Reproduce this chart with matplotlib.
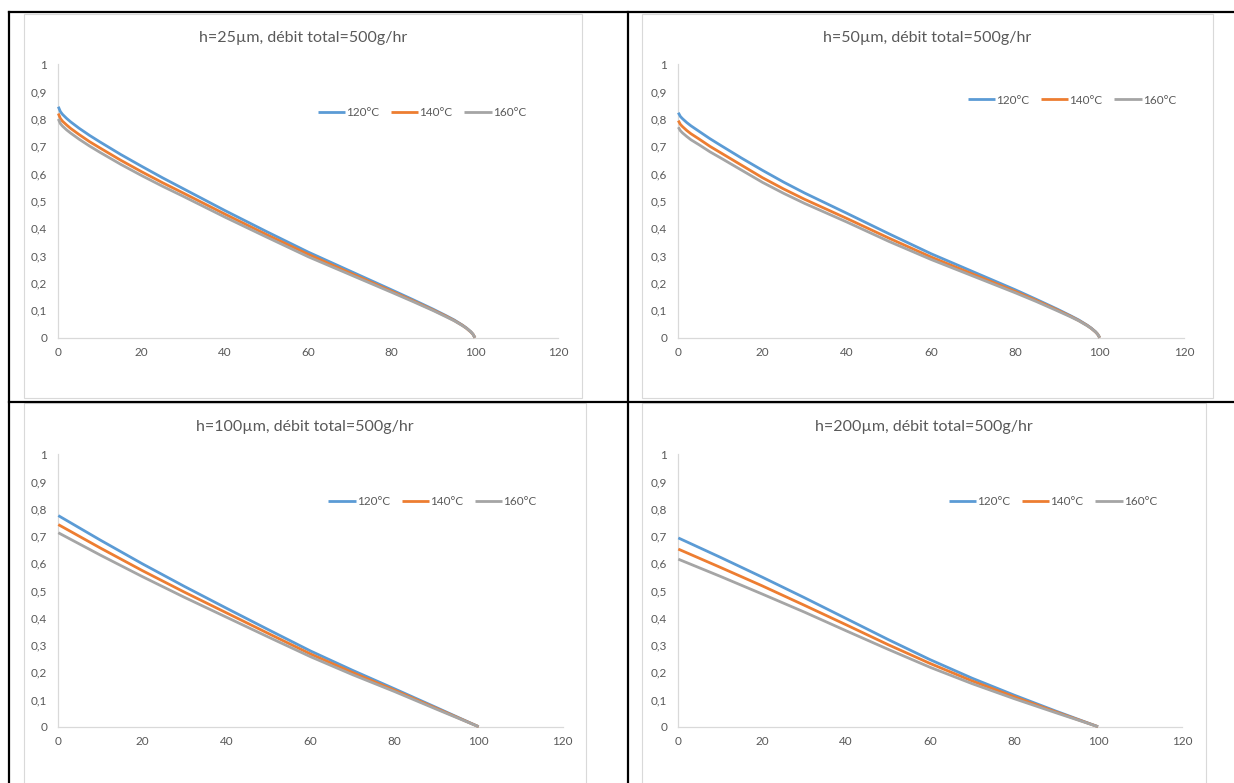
import matplotlib
matplotlib.use("Agg")
import matplotlib.pyplot as plt
from matplotlib.lines import Line2D
from matplotlib.patches import Rectangle

plt.rcParams['font.family'] = ['Lato', 'DejaVu Sans']

W, H = 1234, 783

# ---------------- data ----------------
series_names = ["120°C", "140°C", "160°C"]
colors = ["#5B9BD5", "#ED7D31", "#A5A5A5"]
titles = ["h=25µm, débit total=500g/hr", "h=50µm, débit total=500g/hr",
          "h=100µm, débit total=500g/hr", "h=200µm, débit total=500g/hr"]

x_fine = [0, 0.5, 1, 2, 3, 5, 7.5, 10, 15, 20, 25, 30, 40, 50, 60, 70, 80, 85, 90, 93, 95, 97, 98, 99, 99.5, 100]
h25_120 = [0.845, 0.827, 0.817, 0.802, 0.789, 0.766, 0.740, 0.716, 0.670, 0.627, 0.585, 0.545, 0.465, 0.388, 0.313, 0.244, 0.175, 0.140, 0.104, 0.081, 0.065, 0.046, 0.035, 0.022, 0.013, 0]
h25_140 = [0.820, 0.802, 0.792, 0.778, 0.765, 0.743, 0.717, 0.694, 0.649, 0.607, 0.567, 0.529, 0.452, 0.377, 0.305, 0.237, 0.170, 0.136, 0.101, 0.079, 0.063, 0.045, 0.034, 0.021, 0.013, 0]
h25_160 = [0.800, 0.783, 0.774, 0.760, 0.748, 0.726, 0.701, 0.678, 0.634, 0.593, 0.554, 0.517, 0.441, 0.368, 0.296, 0.231, 0.166, 0.133, 0.099, 0.077, 0.062, 0.044, 0.034, 0.021, 0.013, 0]

h50_120 = [0.823, 0.809, 0.801, 0.787, 0.775, 0.754, 0.728, 0.704, 0.657, 0.612, 0.569, 0.529, 0.455, 0.380, 0.307, 0.241, 0.175, 0.140, 0.104, 0.081, 0.065, 0.046, 0.035, 0.022, 0.013, 0]
h50_140 = [0.794, 0.780, 0.772, 0.758, 0.746, 0.726, 0.700, 0.677, 0.631, 0.585, 0.544, 0.506, 0.436, 0.364, 0.295, 0.232, 0.169, 0.136, 0.101, 0.079, 0.063, 0.045, 0.034, 0.021, 0.013, 0]
h50_160 = [0.770, 0.757, 0.749, 0.736, 0.724, 0.705, 0.680, 0.658, 0.613, 0.568, 0.528, 0.491, 0.423, 0.352, 0.286, 0.225, 0.164, 0.132, 0.098, 0.077, 0.062, 0.044, 0.034, 0.021, 0.013, 0]

x_coarse = [0, 10, 20, 30, 40, 50, 60, 70, 80, 90, 100]
h100_120 = [0.775, 0.685, 0.598, 0.515, 0.435, 0.356, 0.278, 0.207, 0.139, 0.070, 0]
h100_140 = [0.742, 0.656, 0.573, 0.494, 0.418, 0.342, 0.267, 0.199, 0.134, 0.067, 0]
h100_160 = [0.712, 0.630, 0.551, 0.475, 0.402, 0.329, 0.257, 0.191, 0.129, 0.064, 0]

h200_120 = [0.693, 0.622, 0.549, 0.474, 0.397, 0.320, 0.246, 0.178, 0.116, 0.057, 0]
h200_140 = [0.652, 0.585, 0.517, 0.446, 0.374, 0.301, 0.232, 0.168, 0.110, 0.054, 0]
h200_160 = [0.615, 0.552, 0.487, 0.421, 0.352, 0.284, 0.218, 0.158, 0.103, 0.051, 0]

charts = [
    (x_fine, [h25_120, h25_140, h25_160]),
    (x_fine, [h50_120, h50_140, h50_160]),
    (x_coarse, [h100_120, h100_140, h100_160]),
    (x_coarse, [h200_120, h200_140, h200_160]),
]

x_ticks = [0, 20, 40, 60, 80, 100, 120]
y_ticks = [0, 0.1, 0.2, 0.3, 0.4, 0.5, 0.6, 0.7, 0.8, 0.9, 1]
y_labels = ["0", "0,1", "0,2", "0,3", "0,4", "0,5", "0,6", "0,7", "0,8", "0,9", "1"]

# ---------------- layout (pixels) ----------------
frames = [(24, 14, 582, 398), (642, 14, 1213, 398), (24, 403, 586, 790), (642, 403, 1206, 790)]
plots = [(58.3, 558.3, 64.3, 337.7), (678.3, 1184, 64.3, 337.7),
         (58.3, 562.7, 454.3, 726.7), (678.3, 1182, 454.3, 726.7)]
title_pos = [(303, 38), (927, 38), (305, 427), (924, 427)]
legend_pos = [(422, 112.5), (1072, 100), (432.5, 501.7), (1053, 501.7)]

fig = plt.figure(figsize=(W / 100, H / 100), dpi=100)
fig.patch.set_facecolor("white")

def fx(px):
    return px / W

def fy(py):
    return 1 - py / H

text_col = "#595959"
axis_col = "#D9D9D9"

for i, (xv, ys) in enumerate(charts):
    l, t, r, b = frames[i]
    fig.add_artist(Rectangle((fx(l), fy(b)), fx(r) - fx(l), fy(t) - fy(b),
                             transform=fig.transFigure, facecolor="none",
                             edgecolor=axis_col, lw=0.8, zorder=0))
    x0, x120, y1, y0 = plots[i]
    ax = fig.add_axes([fx(x0), fy(y0), fx(x120) - fx(x0), fy(y1) - fy(y0)])
    ax.set_facecolor("none")
    for k, yv in enumerate(ys):
        ax.plot(xv, yv, color=colors[k], lw=2.0, label=series_names[k],
                clip_on=False, solid_capstyle="butt", solid_joinstyle="round",
                zorder=3 + k)
    ax.set_xlim(0, 120)
    ax.set_ylim(0, 1)
    ax.set_xticks(x_ticks)
    ax.set_xticklabels([str(v) for v in x_ticks])
    ax.set_yticks(y_ticks)
    ax.set_yticklabels(y_labels)
    ax.tick_params(length=0, labelsize=8.5, labelcolor=text_col)
    ax.tick_params(axis="y", pad=8)
    ax.tick_params(axis="x", pad=7)
    for s in ["top", "right"]:
        ax.spines[s].set_visible(False)
    for s in ["left", "bottom"]:
        ax.spines[s].set_color(axis_col)
        ax.spines[s].set_linewidth(0.9)
    tx, ty = title_pos[i]
    fig.text(fx(tx), fy(ty), titles[i], ha="center", va="center",
             fontsize=11.5, color=text_col)
    lx, ly = legend_pos[i]
    ax.legend(loc="center", bbox_to_anchor=(fx(lx), fy(ly)),
              bbox_transform=fig.transFigure, ncol=3, frameon=False,
              fontsize=8.5, labelcolor=text_col, handlelength=2.3,
              handletextpad=0.1, columnspacing=1.0, borderpad=0)

# table borders (black)
black_lines = [
    ((9, 1234), (12, 12)),
    ((9, 1234), (401.5, 401.5)),
    ((9, 9), (12, 783)),
    ((628, 628), (12, 783)),
]
for xs, ys_ in black_lines:
    fig.add_artist(Line2D([fx(xs[0]), fx(xs[1])], [fy(ys_[0]), fy(ys_[1])],
                          transform=fig.transFigure, color="black", lw=1.6, zorder=10))

fig.savefig("out.png", dpi=100)
